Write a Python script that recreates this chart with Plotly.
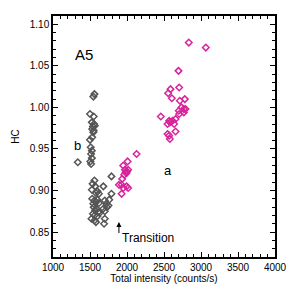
import plotly.graph_objects as go

# Series b (gray)
b_x = [1560, 1545, 1500, 1550, 1525, 1555, 1540, 1565, 1530, 1550, 1545,
       1500, 1530, 1510, 1525, 1515, 1525, 1505, 1515, 1335,
       1790, 1560, 1535, 1570, 1525, 1600, 1580, 1620, 1680, 1790,
       1530, 1560, 1545, 1580, 1600, 1620, 1700, 1720, 1760, 1750,
       1550, 1570, 1590, 1610, 1680, 1700, 1730,
       1540, 1560, 1600, 1630, 1520, 1560, 1700, 1690, 1580]
b_y = [1.016, 1.013, 0.992, 0.989, 0.982, 0.980, 0.977, 0.978, 0.974, 0.972, 0.970,
       0.961, 0.964, 0.952, 0.948, 0.944, 0.939, 0.935, 0.932, 0.934,
       0.917, 0.912, 0.908, 0.905, 0.901, 0.899, 0.897, 0.896, 0.905, 0.896,
       0.890, 0.888, 0.884, 0.886, 0.889, 0.885, 0.888, 0.884, 0.889, 0.882,
       0.880, 0.876, 0.878, 0.874, 0.878, 0.875, 0.880,
       0.872, 0.870, 0.869, 0.873, 0.866, 0.864, 0.866, 0.860, 0.862]

# Series a (magenta)
a_x = [2835, 3065, 2696, 2588, 2556, 2705, 2606, 2714, 2781, 2737, 2700, 2768, 2791,
       2705, 2768, 2457, 2570, 2615, 2656, 2548, 2579, 2637, 2656, 2548, 2570, 2579,
       2129, 2008, 1949, 1972, 2016, 1994, 1962, 1935, 1891, 1927, 1949, 1994, 2016,
       1927, 1980, 2000]
a_y = [1.078, 1.072, 1.044, 1.022, 1.017, 1.024, 1.011, 1.008, 1.010, 1.000, 0.996, 0.998, 0.998,
       0.992, 0.994, 0.989, 0.984, 0.984, 0.986, 0.980, 0.982, 0.980, 0.971, 0.968, 0.966, 0.962,
       0.944, 0.935, 0.930, 0.925, 0.925, 0.921, 0.919, 0.914, 0.907, 0.907, 0.903, 0.905, 0.903,
       0.896, 0.922, 0.923]

transition_x = 1891
font = "Liberation Sans, Arial, Helvetica, sans-serif"

fig = go.Figure()
fig.add_trace(go.Scatter(x=b_x, y=b_y, mode="markers",
                         marker=dict(symbol="diamond-open", size=5, color="#555555",
                                     line=dict(width=1.5, color="#555555"))))
fig.add_trace(go.Scatter(x=a_x, y=a_y, mode="markers",
                         marker=dict(symbol="diamond-open", size=5, color="#d8239b",
                                     line=dict(width=1.5, color="#d8239b"))))

fig.add_annotation(x=1418, y=1.064, text="A5", showarrow=False, font=dict(size=15, color="black"))
fig.add_annotation(x=1337, y=0.954, text="b", showarrow=False, font=dict(size=13, color="black"))
fig.add_annotation(x=2550, y=0.924, text="a", showarrow=False, font=dict(size=13, color="black"))
fig.add_annotation(x=transition_x, y=0.862, ax=transition_x, ay=0.847, xref="x", yref="y",
                   axref="x", ayref="y", text="", showarrow=True, arrowhead=2,
                   arrowsize=1, arrowwidth=1, arrowcolor="black")
fig.add_annotation(x=transition_x + 15, y=0.8425, text="Transition", showarrow=False,
                   xanchor="left", font=dict(size=12, color="black"))

axis_common = dict(showline=True, linecolor="black", linewidth=1.5, mirror="ticks",
                   ticks="inside", ticklen=5, tickwidth=1.2, tickcolor="black",
                   showgrid=False, zeroline=False, automargin=False,
                   tickfont=dict(size=10, color="black", family=font))
fig.update_xaxes(range=[1000, 4000], dtick=500, tick0=1000,
                 minor=dict(dtick=100, ticks="inside", ticklen=3, tickcolor="black"),
                 title=dict(text="Total intensity (counts/s)", font=dict(size=10, color="black"), standoff=1),
                 **axis_common)
fig.update_yaxes(range=[0.82, 1.11], dtick=0.05, tick0=0.85, tickformat=".2f",
                 minor=dict(dtick=0.01, ticks="inside", ticklen=3, tickcolor="black"),
                 title=dict(text="HC", font=dict(size=10, color="black"), standoff=8),
                 **axis_common)
fig.update_layout(width=291, height=291, margin=dict(l=53, r=16, t=16, b=34),
                  plot_bgcolor="white", paper_bgcolor="white", showlegend=False,
                  font=dict(family=font, color="black"))
fig.write_html("out.html", config={"displayModeBar": False},
               post_script="document.body.style.margin='0';document.body.style.overflow='hidden';")
